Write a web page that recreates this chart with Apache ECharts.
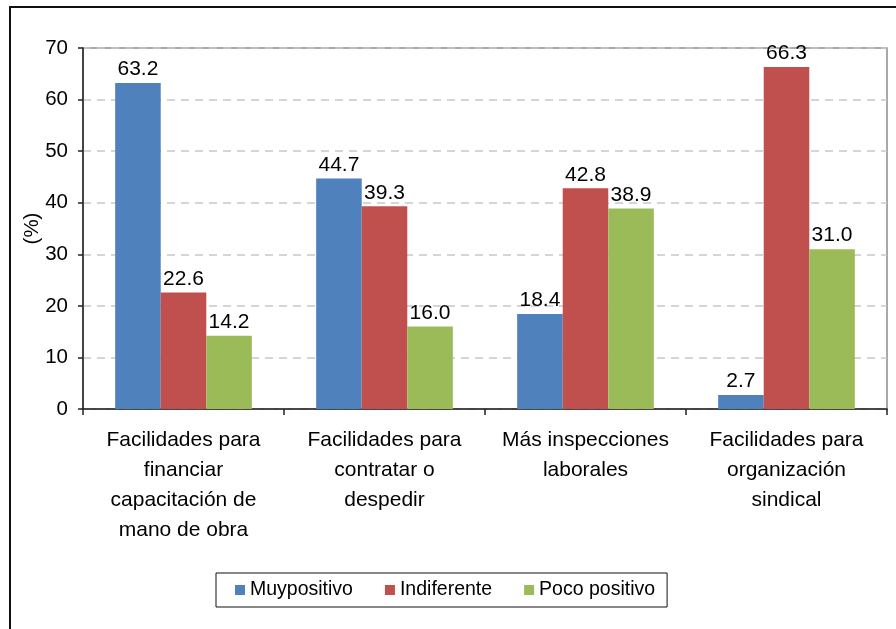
<!DOCTYPE html>
<html>
<head>
<meta charset="utf-8">
<script src="https://cdn.jsdelivr.net/npm/echarts@6/dist/echarts.min.js"></script>
<style>
  html, body { margin: 0; padding: 0; background: #fff; }
  #chart { width: 896px; height: 629px; }
</style>
</head>
<body>
<div id="chart"></div>
<script>
// Chart data
const categories = [
  'Facilidades para\nfinanciar\ncapacitación de\nmano de obra',
  'Facilidades para\ncontratar o\ndespedir',
  'Más inspecciones\nlaborales',
  'Facilidades para\norganización\nsindical'
];
const seriesNames = ['Muypositivo', 'Indiferente', 'Poco positivo'];
const muyPositivo = [63.2, 44.7, 18.4, 2.7];
const indiferente = [22.6, 39.3, 42.8, 66.3];
const pocoPositivo = [14.2, 16.0, 38.9, 31.0];
const yTicks = { min: 0, max: 70, interval: 10 };

const colors = ['#4F81BD', '#C0504D', '#9BBB59'];
const font = '"Liberation Sans", Arial, sans-serif';

const chart = echarts.init(document.getElementById('chart'), null, { renderer: 'canvas' });

function barSeries(name, data, color) {
  return {
    name: name,
    type: 'bar',
    data: data,
    barGap: '0%',
    barCategoryGap: '32%',
    itemStyle: { color: color },
    label: {
      show: true,
      position: 'top',
      distance: 3,
      color: '#000',
      fontFamily: font,
      fontSize: 21,
      formatter: p => p.value.toFixed(1)
    }
  };
}

chart.setOption({
  animation: false,
  backgroundColor: '#fff',
  textStyle: { fontFamily: font },
  graphic: [{
    type: 'rect',
    shape: { x: 10, y: 7, width: 900, height: 700 },
    style: { fill: 'none', stroke: '#111', lineWidth: 2 },
    silent: true
  }],
  grid: {
    left: 83, right: 9, top: 48, bottom: 220,
    show: true,
    borderColor: '#8c8c8c',
    borderWidth: 1.5,
    backgroundColor: 'transparent'
  },
  legend: {
    left: 216,
    top: 573,
    data: seriesNames,
    itemWidth: 10,
    itemHeight: 10,
    itemGap: 32,
    padding: [7, 12, 7, 19],
    borderColor: '#111',
    borderWidth: 1,
    icon: 'rect',
    textStyle: { fontFamily: font, fontSize: 19.5, color: '#000' }
  },
  xAxis: {
    type: 'category',
    data: categories,
    axisLine: { lineStyle: { color: '#222', width: 1.5 } },
    axisTick: { show: true, length: 6, lineStyle: { color: '#222', width: 1.5 } },
    axisLabel: {
      color: '#000',
      fontFamily: font,
      fontSize: 21,
      lineHeight: 30,
      margin: 16,
      interval: 0
    }
  },
  yAxis: {
    type: 'value',
    min: yTicks.min,
    max: yTicks.max,
    interval: yTicks.interval,
    name: '(%)',
    nameLocation: 'middle',
    nameRotate: 90,
    nameGap: 40,
    nameMoveOverlap: false,
    nameTextStyle: { color: '#000', fontFamily: font, fontSize: 20.5 },
    axisLine: { show: true, lineStyle: { color: '#222', width: 1.5 } },
    axisTick: { show: true, length: 5, lineStyle: { color: '#222', width: 1.5 } },
    axisLabel: { color: '#000', fontFamily: font, fontSize: 20.5, margin: 15 },
    splitLine: { show: true, lineStyle: { color: '#c8c8c8', width: 1.5, type: [8, 6] } }
  },
  series: [
    barSeries(seriesNames[0], muyPositivo, colors[0]),
    barSeries(seriesNames[1], indiferente, colors[1]),
    barSeries(seriesNames[2], pocoPositivo, colors[2])
  ]
});
</script>
</body>
</html>
